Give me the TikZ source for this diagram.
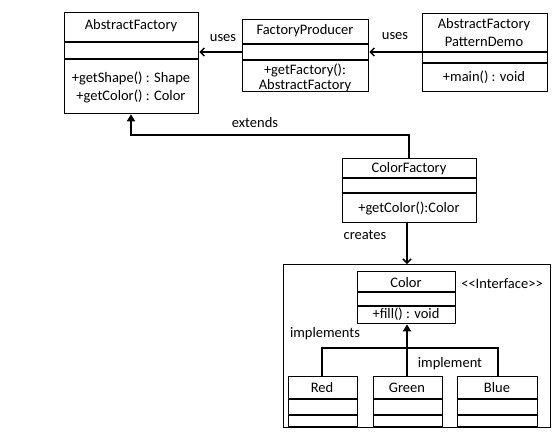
\documentclass[tikz,border=0pt]{standalone}
\usepackage{fontspec}
\setmainfont{Carlito}
\usetikzlibrary{arrows.meta}
\begin{document}
\begin{tikzpicture}[x=1pt,y=-1pt,
  box/.style={draw,line width=1.3pt,inner sep=0pt,anchor=north west},
  div/.style={line width=1.3pt},
  txt/.style={font=\fontsize{14.5}{16}\selectfont,inner sep=0pt},
  conn/.style={line width=1.8pt},
  usesarr/.style={conn,-{Straight Barb[length=4pt,width=8pt,line width=1.5pt]}},
  inharr/.style={conn,-{Triangle[length=7pt,width=8pt]}}]
\useasboundingbox (0,0) rectangle (560,437);
% class box macro: name, x1,y1,x2,y2, divider1, divider2
\newcommand{\umlbox}[7]{%
  \node[box,minimum width={#4-#2},minimum height={#5-#3}] (#1) at (#2,#3) {};
  \draw[div] (#2,#6) -- (#4,#6);
  \draw[div] (#2,#7) -- (#4,#7);}
\umlbox{af}{64}{12}{198}{113}{42}{59}
\umlbox{fp}{242}{19}{368}{91}{44}{60}
\umlbox{demo}{422}{13}{547}{91}{52}{63}
\umlbox{cf}{342}{158}{476}{222}{178}{193}
\node[box,minimum width=267,minimum height=163] (pkg) at (283,264) {};
\umlbox{color}{357}{271}{455}{323}{292}{306}
\umlbox{red}{288}{376}{357}{426}{399}{415}
\umlbox{green}{373}{376}{442}{426}{399}{415}
\umlbox{blue}{457}{376}{537}{426}{399}{415}
% texts
\node[txt] (afT) at (131,26) {AbstractFactory};
\node[txt] (afM1) at (131,78) {+getShape() : Shape};
\node[txt] (afM2) at (131,96) {+getColor() : Color};
\node[txt] (fpT) at (305,31) {FactoryProducer};
\node[txt] (fpM1) at (305,70) {+getFactory():};
\node[txt] (fpM2) at (305,86) {AbstractFactory};
\node[txt] (demoT1) at (484,25) {AbstractFactory};
\node[txt] (demoT2) at (484,42) {PatternDemo};
\node[txt] (demoM) at (484,77) {+main() : void};
\node[txt] (cfT) at (409,169) {ColorFactory};
\node[txt] (cfM) at (409,208) {+getColor():Color};
\node[txt] (colorT) at (406,283) {Color};
\node[txt] (colorM) at (406,314) {+fill() : void};
\node[txt] (iface) at (502,284) {<{}<Interface>{}>};
\node[txt] (redT) at (322,388) {Red};
\node[txt] (greenT) at (407,388) {Green};
\node[txt] (blueT) at (497,388) {Blue};
% labels
\node[txt] (l1) at (223,38) {uses};
\node[txt] (l2) at (395,36) {uses};
\node[txt] (l3) at (255,123) {extends};
\node[txt] (l4) at (365,235) {creates};
\node[txt] (l5) at (325,334) {implements};
\node[txt] (l6) at (450,364) {implement};
% connectors
\coordinate (j1) at (131,135);
\coordinate (j2) at (409,135);
\draw[usesarr] (fp.west |- 0,52) -- (af.east |- 0,52);
\draw[usesarr] (demo.west |- 0,52) -- (fp.east |- 0,52);
\draw[inharr] (cf.north -| j2) -- (j2) -- (j1) -- (af.south -| j1);
\draw[usesarr] (407,222) -- (pkg.north -| 407,0);
\coordinate (h0) at (407,348);
\coordinate (hl) at (322,348);
\coordinate (hr) at (498,348);
\draw[conn] (red.north -| hl) -- (hl) -- (hr) -- (blue.north -| hr);
\draw[inharr] (green.north -| h0) -- (color.south -| h0);
\end{tikzpicture}
\end{document}
